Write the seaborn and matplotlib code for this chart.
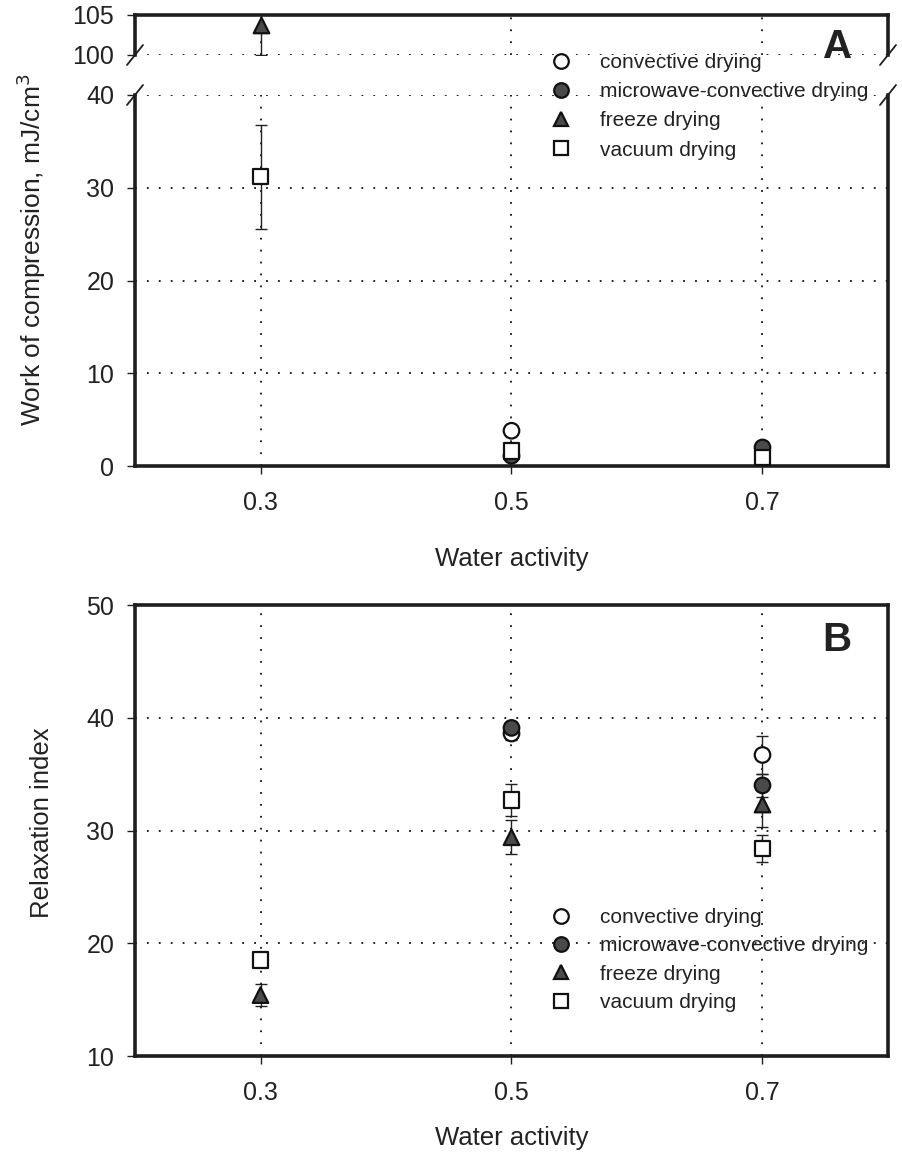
import numpy as np
import pandas as pd
import seaborn as sns
import matplotlib.pyplot as plt
from matplotlib.lines import Line2D

# water activity levels shown on the x axis
aw_ticks = [0.3, 0.5, 0.7]

methods = ["convective drying", "microwave-convective drying", "freeze drying", "vacuum drying"]
markers = {"convective drying": "o", "microwave-convective drying": "o",
           "freeze drying": "^", "vacuum drying": "s"}
fills = {"convective drying": "white", "microwave-convective drying": "#4a4a4a",
         "freeze drying": "#4a4a4a", "vacuum drying": "white"}

# panel A - work of compression (mJ/cm3)
wc_aw = [0.3, 0.3, 0.5, 0.5, 0.5, 0.7, 0.7]
wc_method = ["freeze drying", "vacuum drying", "convective drying",
             "microwave-convective drying", "vacuum drying",
             "microwave-convective drying", "vacuum drying"]
wc_value = [103.8, 31.2, 3.8, 1.1, 1.6, 2.0, 0.9]
wc_err = [3.8, 5.6, 0.5, 0.2, 0.3, 0.2, 0.2]

# panel B - relaxation index
ri_aw = [0.3, 0.3, 0.5, 0.5, 0.5, 0.5, 0.7, 0.7, 0.7, 0.7]
ri_method = ["vacuum drying", "freeze drying",
             "convective drying", "microwave-convective drying", "freeze drying", "vacuum drying",
             "convective drying", "microwave-convective drying", "freeze drying", "vacuum drying"]
ri_value = [18.5, 15.4, 38.6, 39.1, 29.4, 32.7, 36.7, 34.0, 32.3, 28.4]
ri_err = [0.6, 1.0, 0.6, 0.5, 1.5, 1.4, 1.7, 1.0, 2.0, 1.2]

sns.set_style("white")
plt.rcParams['font.family'] = ['Liberation Sans', 'DejaVu Sans']

SPINE_C = "#1e1e1e"
TEXT_C = "#222222"
GRID_LS = (0, (1, 5.6))


def style_axes(ax, spines=("left", "right", "top", "bottom")):
    for name, sp in ax.spines.items():
        sp.set_visible(name in spines)
        sp.set_linewidth(2.6)
        sp.set_color(SPINE_C)
    ax.set_xlim(0.2, 0.8)
    ax.tick_params(axis="both", direction="out", length=6, width=1, color=SPINE_C,
                   labelsize=18, labelcolor=TEXT_C, left=True, bottom=True,
                   right=False, top=False)
    ax.tick_params(axis="y", pad=9)
    ax.tick_params(axis="x", pad=12)


def draw_points(ax, df):
    ax.errorbar(df["aw"], df["value"], yerr=df["err"], fmt="none", ecolor="#222222",
                elinewidth=1.0, capsize=4, capthick=1.0, zorder=2)
    sns.scatterplot(data=df, x="aw", y="value", hue="method", style="method",
                    markers=markers, palette=fills, hue_order=methods, style_order=methods,
                    s=125, edgecolor="#111111", linewidth=1.6, legend=False, ax=ax, zorder=3,
                    clip_on=False)


def grid_lines(ax, ys):
    for x in aw_ticks:
        ax.axvline(x, color="#111111", lw=1.3, ls=GRID_LS, zorder=1)
    for y in ys:
        ax.axhline(y, color="#111111", lw=1.3, ls=GRID_LS, zorder=1)


def add_legend(fig, top_px, spacing):
    handles = [Line2D([], [], marker=markers[m], ls="none", markersize=10.5,
                      markerfacecolor=fills[m], markeredgecolor="#111111",
                      markeredgewidth=1.6) for m in methods]
    fig.legend(handles, methods, loc="upper left",
               bbox_to_anchor=(551 / 903, 1 - top_px / 1162), frameon=False,
               fontsize=15, handlelength=1.0, handletextpad=1.37, labelspacing=spacing,
               borderpad=0, borderaxespad=0, labelcolor=TEXT_C)


fig = plt.figure(figsize=(9.03, 11.62), dpi=100)
ax_top = fig.add_axes([135 / 903, 1 - 55 / 1162, 753 / 903, 40 / 1162])
ax_a = fig.add_axes([135 / 903, 1 - 466 / 1162, 753 / 903, 371 / 1162])
ax_b = fig.add_axes([135 / 903, 1 - 1056 / 1162, 753 / 903, 451 / 1162])

wc = pd.DataFrame({"aw": wc_aw, "method": wc_method, "value": wc_value, "err": wc_err})
ri = pd.DataFrame({"aw": ri_aw, "method": ri_method, "value": ri_value, "err": ri_err})

# panel A, upper broken part
style_axes(ax_top, spines=("left", "right", "top"))
draw_points(ax_top, wc[wc["value"] >= 100])
ax_top.set_ylim(100, 105)
ax_top.set_yticks([100, 105])
ax_top.set_xticks([])
grid_lines(ax_top, [100])
ax_top.set_xlabel("")
ax_top.set_ylabel("")

# panel A, lower part
style_axes(ax_a, spines=("left", "right", "bottom"))
draw_points(ax_a, wc[wc["value"] < 100])
ax_a.set_ylim(0, 40)
ax_a.set_yticks([0, 10, 20, 30, 40])
ax_a.set_xticks(aw_ticks)
ax_a.set_xticklabels(["0.3", "0.5", "0.7"])
grid_lines(ax_a, [10, 20, 30, 40])
ax_a.set_xlabel("Water activity", fontsize=18.5, labelpad=23, color=TEXT_C)
ax_a.set_ylabel("")

# break marks
for ax, yy, h in [(ax_top, 0.0, 40), (ax_a, 1.0, 371)]:
    dx, dy = 8 / 753, 10 / h
    for xx in (0.0, 1.0):
        ax.plot([xx - dx, xx + dx], [yy - dy, yy + dy], transform=ax.transAxes,
                color=SPINE_C, lw=1.3, clip_on=False)

fig.text(31 / 903, 1 - 250 / 1162, "Work of compression, mJ/cm$^3$", rotation=90,
         ha="center", va="center", fontsize=19, color=TEXT_C)
fig.text(838 / 903, 1 - 47 / 1162, "A", fontsize=29, fontweight="bold",
         ha="center", va="center", color=TEXT_C)
add_legend(fig, 53, 0.49)

# panel B
style_axes(ax_b)
draw_points(ax_b, ri)
ax_b.set_ylim(10, 50)
ax_b.set_yticks([10, 20, 30, 40, 50])
ax_b.set_xticks(aw_ticks)
ax_b.set_xticklabels(["0.3", "0.5", "0.7"])
grid_lines(ax_b, [20, 30, 40])
ax_b.set_xlabel("Water activity", fontsize=18.5, labelpad=15, color=TEXT_C)
ax_b.set_ylabel("")
fig.text(42 / 903, 1 - 823 / 1162, "Relaxation index", rotation=90,
         ha="center", va="center", fontsize=18.5, color=TEXT_C)
fig.text(837 / 903, 1 - 640 / 1162, "B", fontsize=29, fontweight="bold",
         ha="center", va="center", color=TEXT_C)
add_legend(fig, 908, 0.45)

fig.savefig("out.png", dpi=100)
